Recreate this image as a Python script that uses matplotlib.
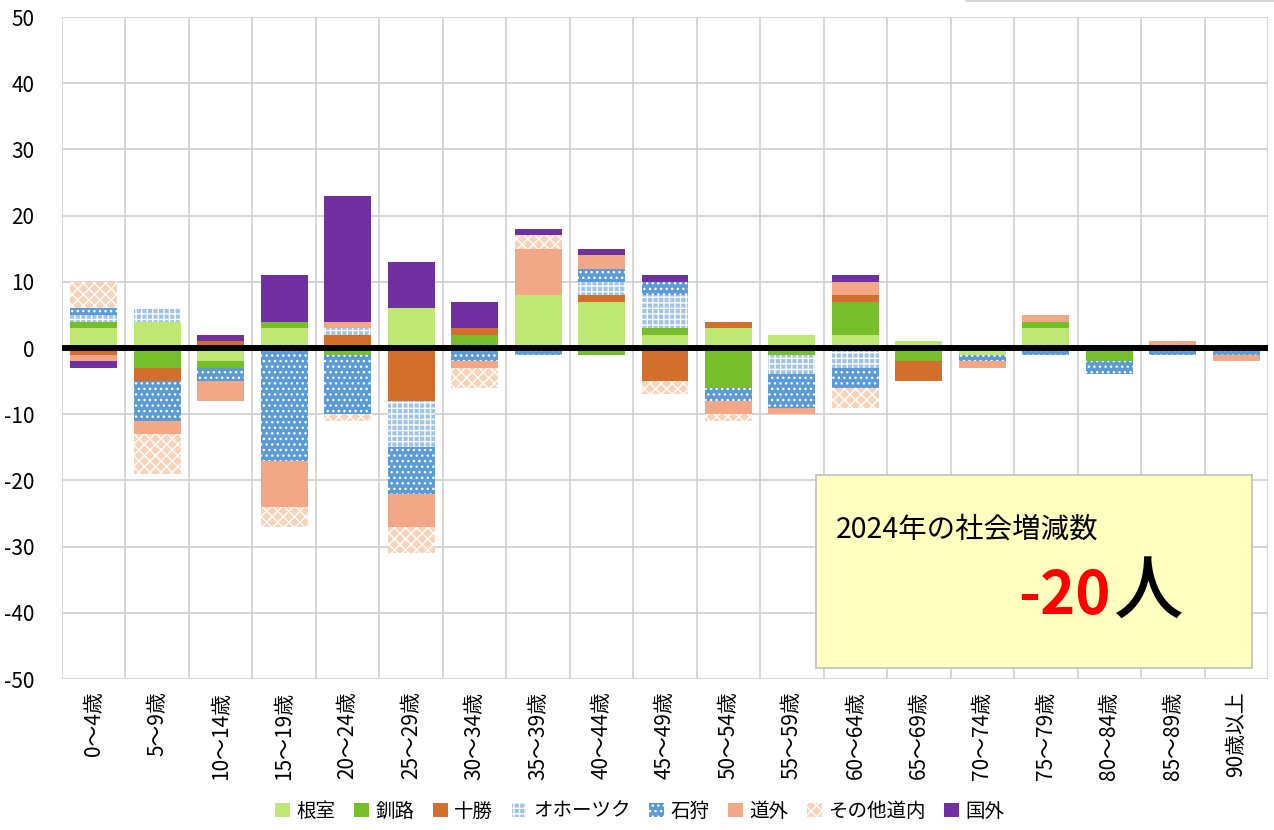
import numpy as np
import matplotlib
matplotlib.use("Agg")
import matplotlib.pyplot as plt
from matplotlib.patches import Patch, Rectangle
from matplotlib.lines import Line2D

plt.rcParams['font.family'] = ['Noto Sans CJK JP', 'DejaVu Sans']
plt.rcParams['hatch.linewidth'] = 1.0

ages = ["0～4歳", "5～9歳", "10～14歳", "15～19歳", "20～24歳", "25～29歳", "30～34歳",
        "35～39歳", "40～44歳", "45～49歳", "50～54歳", "55～59歳", "60～64歳", "65～69歳",
        "70～74歳", "75～79歳", "80～84歳", "85～89歳", "90歳以上"]

nemuro  = [3, 4, -2, 3, 0, 6, 0, 8, 7, 2, 3, 2, 2, 1, -1, 3, 0, 0, 0]
kushiro = [1, -3, -1, 1, -1, 0, 2, 0, -1, 1, -6, -1, 5, -2, 0, 1, -2, 0, 0]
tokachi = [-1, -2, 1, 0, 2, -8, 1, 0, 1, -5, 1, 0, 1, -3, 0, 0, 0, 0, 0]
okhotsk = [1, 2, 0, 0, 1, -7, 0, 0, 2, 5, 0, -3, -3, 0, 0, 0, 0, 0, 0]
ishikari = [1, -6, -2, -17, -9, -7, -2, -1, 2, 2, -2, -5, -3, 0, -1, -1, -2, -1, -1]
dougai  = [-1, -2, -3, -7, 1, -5, -1, 7, 2, 0, -2, -1, 2, 0, -1, 1, 0, 1, -1]
sonota  = [4, -6, 0, -3, -1, -4, -3, 2, 0, -2, -1, 0, -3, 0, 0, 0, 0, 0, 0]
kokugai = [-1, 0, 1, 7, 19, 7, 4, 1, 1, 1, 0, 0, 1, 0, 0, 0, 0, 0, 0]

series_names = ["根室", "釧路", "十勝", "オホーツク", "石狩", "道外", "その他道内", "国外"]
series_data = [nemuro, kushiro, tokachi, okhotsk, ishikari, dougai, sonota, kokugai]
colors = ["#BEE873", "#76BE2B", "#D26F2C", "#9DC3E6", "#5B9BD5", "#F2A787", "#F9D2BA", "#7030A0"]
hatches = [None, None, None, "+++", "...", None, "xxx", None]

total_text_label = "2024年の社会増減数"
total_value = "-20"
total_unit = "人"

fig = plt.figure(figsize=(12.74, 8.30), dpi=100)
ax = fig.add_axes([62/1274, 1-679/830, (1268-62)/1274, (679-17)/830])

x = np.arange(len(ages))
pos_bottom = np.zeros(len(ages))
neg_bottom = np.zeros(len(ages))
for name, vals, c, h in zip(series_names, series_data, colors, hatches):
    v = np.array(vals, dtype=float)
    bottoms = np.where(v >= 0, pos_bottom, neg_bottom)
    ax.bar(x, v, width=0.74, bottom=bottoms, color=c, hatch=h,
           edgecolor="white" if h else c, linewidth=0, zorder=3)
    pos_bottom += np.where(v > 0, v, 0)
    neg_bottom += np.where(v < 0, v, 0)

ax.set_xlim(-0.5, len(ages) - 0.5)
ax.set_ylim(-50, 50)
ax.set_yticks(np.arange(-50, 51, 10))
ax.set_yticklabels([str(t) for t in range(-50, 51, 10)], fontsize=15)
ax.tick_params(axis='y', length=0, pad=20)
ax.set_xticks(x)
ax.set_xticklabels(ages, rotation=90, fontsize=15, va='top', ha='center')
ax.tick_params(axis='x', length=0, pad=9)

grid_c = "#CFCFCF"
for yv in range(-50, 51, 10):
    ax.axhline(yv, color=grid_c, lw=1.2, zorder=1)
for xv in np.arange(-0.5, len(ages), 1.0):
    ax.axvline(xv, color=grid_c, lw=1.2, zorder=1)
for sp in ax.spines.values():
    sp.set_visible(False)
ax.axhline(0, color="black", lw=4.3, zorder=4)

handles = [Patch(facecolor=c, hatch=h, edgecolor="white" if h else c, linewidth=0)
           for c, h in zip(colors, hatches)]
fig.legend(handles, series_names, loc="center", bbox_to_anchor=(640/1274, 1-811/830),
           ncol=8, frameon=False, fontsize=14, handlelength=0.75, handleheight=0.75,
           handletextpad=0.35, columnspacing=0.95)

# annotation box
box = Rectangle((816/1274, 1-668/830), (1252-816)/1274, (668-475)/830,
                transform=fig.transFigure, facecolor="#FFFFC0", edgecolor="#BFBFBF",
                lw=1.2, zorder=5)
fig.add_artist(box)
fig.text(836/1274, 1-529/830, total_text_label, fontsize=20.5, va='center', ha='left', zorder=6)
fig.text(1111/1274, 1-597/830, total_value, fontsize=43, color="#FF0000", fontweight='bold',
         va='center', ha='right', zorder=6)
fig.text(1113/1274, 1-594/830, total_unit, fontsize=50, color="black", fontweight='medium',
         va='center', ha='left', zorder=6)

fig.add_artist(Line2D([966/1274, 1.0], [1-1/830, 1-1/830], transform=fig.transFigure,
                      color="#D0D0D0", lw=1.2))

fig.savefig("out.png", dpi=100)
